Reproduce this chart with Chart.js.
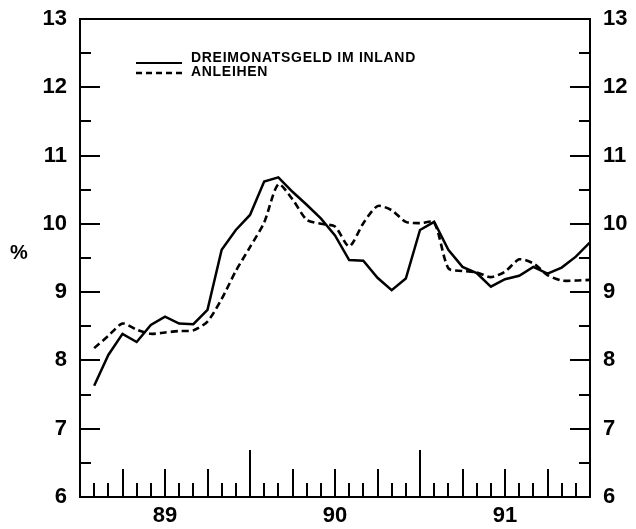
<!DOCTYPE html>
<html>
<head>
<meta charset="utf-8">
<script src="https://cdn.jsdelivr.net/npm/chart.js@4/dist/chart.umd.min.js"></script>
<style>
  html, body { margin: 0; padding: 0; background: #fff; }
  #wrap { width: 636px; height: 529px; }
</style>
</head>
<body>
<div id="wrap"><canvas id="c" width="636" height="529"></canvas></div>
<script>
// Monthly observations, Jan 1989 – Dec 1991 (each plotted at month end)
const months = [
  '89-01','89-02','89-03','89-04','89-05','89-06','89-07','89-08','89-09','89-10','89-11','89-12',
  '90-01','90-02','90-03','90-04','90-05','90-06','90-07','90-08','90-09','90-10','90-11','90-12',
  '91-01','91-02','91-03','91-04','91-05','91-06','91-07','91-08','91-09','91-10','91-11','91-12'
];

// Dreimonatsgeld im Inland (%)
const dreimonatsgeld = [
  7.63, 8.08, 8.39, 8.27, 8.52, 8.64, 8.54, 8.53, 8.74, 9.62, 9.91, 10.13,
  10.62, 10.68, 10.47, 10.28, 10.08, 9.83, 9.47, 9.46, 9.21, 9.03, 9.20, 9.91,
  10.03, 9.62, 9.37, 9.28, 9.08, 9.19, 9.24, 9.37, 9.27, 9.36, 9.52, 9.73
];

// Anleihen (%)
const anleihen = [
  8.18, 8.36, 8.54, 8.45, 8.39, 8.41, 8.43, 8.44, 8.57, 8.90, 9.31, 9.66,
  10.02, 10.58, 10.36, 10.06, 10.00, 9.96, 9.67, 10.01, 10.26, 10.20, 10.03, 10.01,
  10.02, 9.35, 9.31, 9.29, 9.22, 9.30, 9.48, 9.42, 9.25, 9.17, 9.17, 9.18
];

const yearLabels = ['89', '90', '91'];
const yTickLabels = ['6', '7', '8', '9', '10', '11', '12', '13'];

const seriesNames = ['DREIMONATSGELD IM INLAND', 'ANLEIHEN'];

const FONT = '"Liberation Sans", Arial, Helvetica, sans-serif';
const tickFont = { family: FONT, size: 22, weight: 'bold' };

const toPoints = vals => vals.map((v, i) => ({ x: i + 1, y: v }));

// Inward tick marks on all four sides plus the top frame line
const frameTicks = {
  id: 'frameTicks',
  beforeDatasetsDraw(chart) {
    const { ctx, chartArea: a, scales } = chart;
    const y = scales.y, x = scales.x;
    ctx.save();
    ctx.strokeStyle = '#000';
    ctx.lineWidth = 2;
    ctx.lineCap = 'butt';
    ctx.beginPath();
    ctx.moveTo(a.left - 1, a.top);
    ctx.lineTo(a.right + 1, a.top);
    ctx.stroke();
    for (let v = y.min + 0.5; v < y.max; v += 0.5) {
      const py = Math.round(y.getPixelForValue(v));
      const len = Number.isInteger(v) ? 20 : 11;
      ctx.beginPath();
      ctx.moveTo(a.left, py); ctx.lineTo(a.left + len, py);
      ctx.moveTo(a.right, py); ctx.lineTo(a.right - len, py);
      ctx.stroke();
    }
    for (let m = 1; m < months.length; m++) {
      const px = Math.round(x.getPixelForValue(m));
      const len = m % 12 === 0 ? 47 : (m % 3 === 0 ? 28 : 14);
      ctx.beginPath();
      ctx.moveTo(px, a.bottom); ctx.lineTo(px, a.bottom - len);
      ctx.stroke();
    }
    ctx.restore();
  }
};

// Unit label and the in-plot legend
const annotations = {
  id: 'annotations',
  afterDraw(chart) {
    const { ctx, chartArea: a } = chart;
    ctx.save();
    ctx.fillStyle = '#000';
    ctx.font = 'bold 20px ' + FONT;
    ctx.textAlign = 'center';
    ctx.textBaseline = 'middle';
    ctx.fillText('%', 19, (a.top + a.bottom) / 2 - 5);

    const lx0 = a.left + 56, lx1 = a.left + 102;
    const rows = [a.top + 44, a.top + 54];
    ctx.lineWidth = 2;
    ctx.strokeStyle = '#000';
    ctx.beginPath();
    ctx.moveTo(lx0, rows[0]); ctx.lineTo(lx1, rows[0]);
    ctx.stroke();
    ctx.setLineDash([6, 4]);
    ctx.lineWidth = 2.4;
    ctx.beginPath();
    ctx.moveTo(lx0, rows[1]); ctx.lineTo(lx1, rows[1]);
    ctx.stroke();
    ctx.setLineDash([]);

    ctx.font = 'bold 14px ' + FONT;
    ctx.textAlign = 'left';
    ctx.textBaseline = 'alphabetic';
    if ('letterSpacing' in ctx) ctx.letterSpacing = '0.7px';
    ctx.fillText(seriesNames[0], lx1 + 9, rows[0] - 1);
    ctx.fillText(seriesNames[1], lx1 + 9, rows[1] + 3);
    ctx.restore();
  }
};

const yAxis = (position) => ({
  type: 'linear',
  position,
  min: 6,
  max: 13,
  afterBuildTicks: axis => { axis.ticks = yTickLabels.map(t => ({ value: Number(t) })); },
  afterFit: scale => {
    scale.width = position === 'left' ? 80 : 46;
    scale.paddingTop = 0;
    scale.paddingBottom = 0;
  },
  grid: { display: false, drawTicks: false },
  border: { display: true, color: '#000', width: 2 },
  ticks: { color: '#000', font: tickFont, padding: 13, callback: v => String(v) }
});

new Chart(document.getElementById('c'), {
  type: 'line',
  data: {
    datasets: [
      {
        label: seriesNames[0],
        data: toPoints(dreimonatsgeld),
        borderColor: '#000',
        borderWidth: 2.5,
        pointRadius: 0,
        tension: 0,
        fill: false
      },
      {
        label: seriesNames[1],
        data: toPoints(anleihen),
        borderColor: '#000',
        borderWidth: 2.6,
        borderDash: [7, 4],
        pointRadius: 0,
        tension: 0.25,
        fill: false
      }
    ]
  },
  options: {
    responsive: false,
    devicePixelRatio: 1,
    animation: false,
    layout: { padding: { top: 19, left: 0, right: 0, bottom: 0 } },
    plugins: { legend: { display: false }, tooltip: { enabled: false } },
    scales: {
      x: {
        type: 'linear',
        position: 'bottom',
        min: 0,
        max: months.length,
        afterBuildTicks: axis => { axis.ticks = yearLabels.map((_, i) => ({ value: 6 + 12 * i })); },
        afterFit: scale => {
          scale.height = 32;
          scale.paddingLeft = 0;
          scale.paddingRight = 0;
        },
        grid: { display: false, drawTicks: false },
        border: { display: true, color: '#000', width: 2 },
        ticks: {
          color: '#000', font: tickFont, padding: 6, maxRotation: 0,
          callback: v => yearLabels[Math.round((v - 6) / 12)]
        }
      },
      y: yAxis('left'),
      y2: yAxis('right')
    }
  },
  plugins: [frameTicks, annotations]
});
</script>
</body>
</html>
